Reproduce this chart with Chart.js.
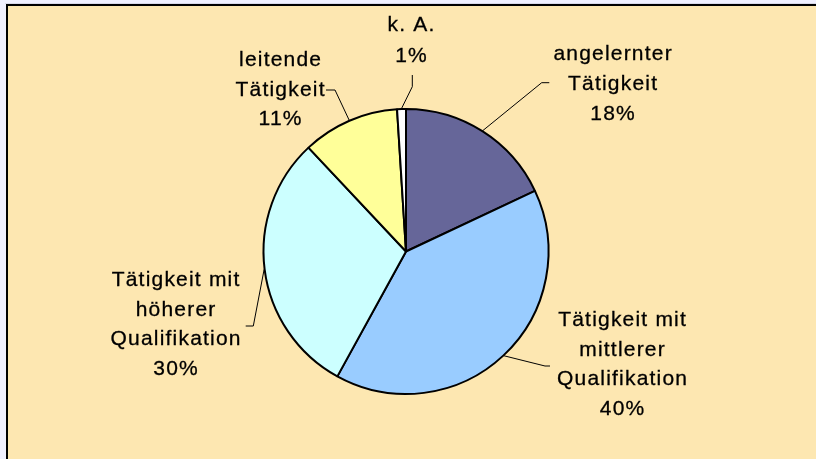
<!DOCTYPE html>
<html>
<head>
<meta charset="utf-8">
<script src="https://cdn.jsdelivr.net/npm/chart.js@4.4.1/dist/chart.umd.min.js"></script>
<style>
html,body{margin:0;padding:0;background:#F0F0FF;}
#wrap{width:816px;height:459px;position:relative;}
</style>
</head>
<body>
<div id="wrap"><canvas id="c" width="816" height="459"></canvas></div>
<script>
// ---- data ----
const categories = ['angelernter Tätigkeit', 'Tätigkeit mit mittlerer Qualifikation', 'Tätigkeit mit höherer Qualifikation', 'leitende Tätigkeit', 'k. A.'];
const values = [18, 40, 30, 11, 1];
const labelLines = [
  ['angelernter', 'Tätigkeit'],
  ['Tätigkeit mit', 'mittlerer', 'Qualifikation'],
  ['Tätigkeit mit', 'höherer', 'Qualifikation'],
  ['leitende', 'Tätigkeit'],
  ['k. A.']
];
const sliceColors = ['#666699', '#99CCFF', '#CCFFFF', '#FFFF99', '#FFFFFF'];

// ---- label layout (text centre x, first baseline y, line height, leader path after arc point) ----
const labelLayout = [
  {x: 612.5, y: 59.5, lh: 30,   leader: [[541.7, 82.7], [549.3, 82.7]]},
  {x: 622,   y: 326,  lh: 29.7, leader: [[545, 366], [550, 366]]},
  {x: 175.5, y: 285.7,lh: 29.8, leader: [[253.3, 326], [245.7, 326]]},
  {x: 280,   y: 66,   lh: 29.5, leader: [[335, 90], [326, 90]]},
  {x: 411,   y: 30.5, lh: 31.5, leader: [[412.3, 86.7], [412.3, 75]]}
];

const frame = {
  id: 'frame',
  beforeDraw(chart) {
    const ctx = chart.ctx;
    ctx.save();
    ctx.fillStyle = '#F0F0FF';
    ctx.fillRect(0, 0, 816, 459);
    ctx.fillStyle = '#D8D8E8';
    ctx.fillRect(5, 3, 811, 1);
    ctx.fillStyle = '#FDE7B1';
    ctx.fillRect(6, 4, 812, 460);
    ctx.strokeStyle = '#000000';
    ctx.lineWidth = 2;
    ctx.strokeRect(7, 5, 820, 470);
    ctx.restore();
  }
};

const sliceLabels = {
  id: 'sliceLabels',
  afterDatasetsDraw(chart) {
    const ctx = chart.ctx;
    const meta = chart.getDatasetMeta(0);
    ctx.save();
    meta.data.forEach((arc, i) => {
      const L = labelLayout[i];
      const p = arc.getProps(['x', 'y', 'outerRadius', 'startAngle', 'endAngle'], true);
      const mid = (p.startAngle + p.endAngle) / 2;
      const sx = p.x + Math.cos(mid) * (p.outerRadius + 0.5);
      const sy = p.y + Math.sin(mid) * (p.outerRadius + 0.5);
      ctx.strokeStyle = '#000000';
      ctx.lineWidth = 1;
      ctx.beginPath();
      ctx.moveTo(sx, sy);
      L.leader.forEach(q => ctx.lineTo(q[0], q[1]));
      ctx.stroke();
      ctx.fillStyle = '#000000';
      ctx.strokeStyle = '#000000';
      ctx.lineWidth = 0.3;
      ctx.font = '21px "Liberation Sans", Arial, sans-serif';
      ctx.textAlign = 'center';
      ctx.textBaseline = 'alphabetic';
      try { ctx.letterSpacing = '1.2px'; } catch (e) {}
      const lines = labelLines[i].concat([values[i] + '%']);
      lines.forEach((t, k) => {
        ctx.fillText(t, L.x + 0.6, L.y + k * L.lh);
        ctx.strokeText(t, L.x + 0.6, L.y + k * L.lh);
      });
    });
    ctx.restore();
  }
};

new Chart(document.getElementById('c'), {
  type: 'pie',
  data: {
    labels: categories,
    datasets: [{
      data: values,
      backgroundColor: sliceColors,
      borderColor: '#000000',
      borderWidth: 2
    }]
  },
  options: {
    responsive: false,
    animation: false,
    events: [],
    layout: {padding: {top: 108, bottom: 64, left: 200, right: 204}},
    plugins: {legend: {display: false}, tooltip: {enabled: false}}
  },
  plugins: [frame, sliceLabels]
});
</script>
</body>
</html>
